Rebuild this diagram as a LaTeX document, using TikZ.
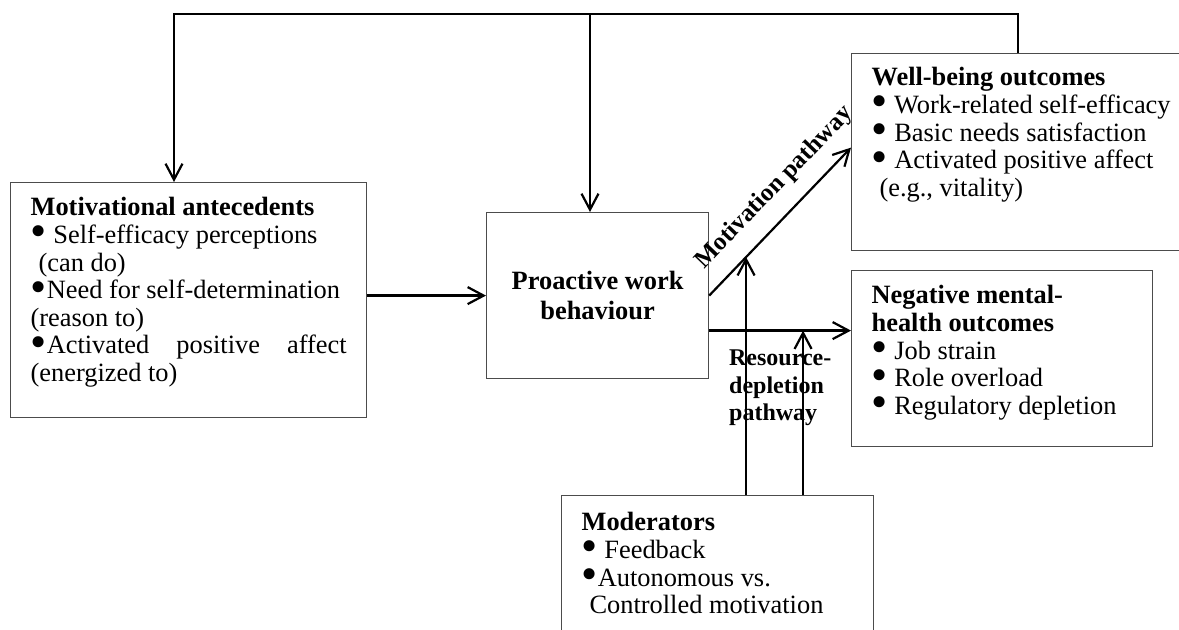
\documentclass[tikz,border=0pt]{standalone}
\usepackage{fontspec}
\usepackage{graphicx}
\setmainfont{Liberation Serif}
\usetikzlibrary{arrows.meta}

% larger list bullet and small indent, as in the figure
\newcommand{\bul}{\raisebox{-0.13em}{\scalebox{1.75}{\textbullet}}}
\newcommand{\ind}{\hspace*{0.3em}}

\begin{document}
\begin{tikzpicture}[x=0.5pt, y=-0.5pt,
    box/.style={draw=black!70, line width=0.6pt, anchor=north west,
      inner xsep=10pt, inner ysep=7.5pt,
      font={\fontsize{13.2pt}{13.8pt}\selectfont}},
    flow/.style={line width=1.1pt, -{Straight Barb[length=8pt,width=8.5pt]}},
    lbl/.style={inner sep=0pt, font={\bfseries\fontsize{12pt}{13.8pt}\selectfont}}]
  \useasboundingbox (0,0) rectangle (1179,630);

  % Motivational antecedents (left)
  \node[box] (anta) at (10,182) {\parbox[c][102.5pt][t]{158pt}{%
    \textbf{Motivational antecedents}\\
    \bul\ Self-efficacy perceptions\\
    \ind(can do)\\
    \bul Need for self-determination\\
    (reason to)\\
    \makebox[\linewidth][s]{\bul Activated positive affect}\\
    (energized to)}};

  % Proactive work behaviour (centre)
  \node[box, inner sep=0pt, minimum width=111pt, minimum height=83pt, align=center,
    font={\bfseries\fontsize{13.2pt}{15pt}\selectfont}] (pwb) at (486,212)
    {Proactive work\\behaviour};

  % Well-being outcomes (upper right, runs off the page)
  \node[box, inner ysep=7pt] (wbo) at (851,53) {\parbox[c][84.5pt][t]{149.5pt}{%
    \textbf{Well-being outcomes}\\
    \bul\ Work-related self-efficacy\\
    \bul\ Basic needs satisfaction\\
    \bul\ Activated positive affect\\
    \ind(e.g., vitality)}};

  % Negative mental-health outcomes (lower right)
  \node[box] (nmh) at (851,270) {\parbox[c][73pt][t]{130.5pt}{%
    \textbf{Negative mental-}\\
    \textbf{health outcomes}\\
    \bul\ Job strain\\
    \bul\ Role overload\\
    \bul\ Regulatory depletion}};

  % Moderators (bottom, runs off the page)
  \node[box, inner ysep=8.5pt] (mod) at (561,495) {\parbox[c][63pt][t]{136pt}{%
    \textbf{Moderators}\\
    \bul\ Feedback\\
    \bul Autonomous vs.\\
    \ind Controlled motivation}};

  % Feedback loop along the top
  \coordinate (fbR) at (1018,14);
  \coordinate (fbM) at (590,14);
  \coordinate (fbL) at (174,14);
  \draw[flow] (fbR |- wbo.north) -- (fbR) -- (fbL) -- (fbL |- anta.north);
  \draw[flow] (fbM) -- (fbM |- pwb.north);

  % Antecedents -> behaviour
  \draw[flow] (anta.east |- pwb.west) -- (pwb.west);

  % Motivation pathway
  \draw[flow] (pwb.east) -- ([yshift=2.25pt]wbo.west)
    coordinate[pos=0.26] (mp1)
    node[lbl, inner sep=7.5pt, sloped, above, pos=0.6,
      font={\bfseries\fontsize{12.5pt}{13.8pt}\selectfont}] {Motivation pathway};

  % Resource-depletion pathway
  \coordinate (rs) at ([yshift=-17.5pt]pwb.east);
  \draw[flow] (rs) -- (rs -| nmh.west)
    coordinate[pos=0.662] (rp1)
    node[lbl, anchor=north west, align=left, pos=0.133, yshift=-9pt]
      {Resource-\\depletion\\pathway};

  % Moderator arrows
  \draw[flow] (mp1 |- mod.north) -- (mp1);
  \draw[flow] (rp1 |- mod.north) -- (rp1);
\end{tikzpicture}
\end{document}
